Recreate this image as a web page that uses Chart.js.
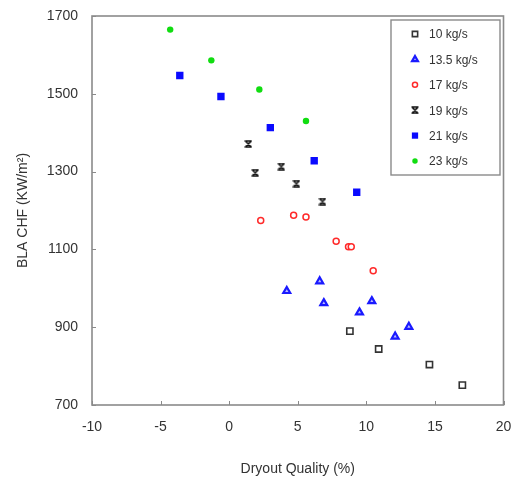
<!DOCTYPE html>
<html>
<head>
<meta charset="utf-8">
<script src="https://cdn.jsdelivr.net/npm/chart.js@4"></script>
<style>
  html, body { margin: 0; padding: 0; background: #fff; }
  #wrap { width: 512px; height: 485px; }
</style>
</head>
<body>
<div id="wrap"><canvas id="my-chart" width="512" height="485"></canvas></div>
<script>
'use strict';

// ******* DATA *********
let seriesNames = ['10 kg/s', '13.5 kg/s', '17 kg/s', '19 kg/s', '21 kg/s', '23 kg/s'];

let x10 = [8.8, 10.9, 14.6, 17.0];
let y10 = [890, 844, 804, 751];

let x135 = [4.2, 6.6, 6.9, 9.5, 10.4, 12.1, 13.1];
let y135 = [993, 1018, 962, 938, 967, 876, 901];

let x17 = [2.3, 4.7, 5.6, 7.8, 8.7, 8.9, 10.5];
let y17 = [1174, 1188, 1183, 1121, 1107, 1107, 1045];

let x19 = [1.4, 3.8, 1.9, 4.9, 6.8];
let y19 = [1371, 1313, 1297, 1269, 1223];

let x21 = [-3.6, -0.6, 3.0, 6.2, 9.3];
let y21 = [1547, 1493, 1413, 1328, 1247];

let x23 = [-4.3, -1.3, 2.2, 5.6];
let y23 = [1665, 1586, 1511, 1430];

let xTicks = [-10, -5, 0, 5, 10, 15, 20];
let yTicks = [700, 900, 1100, 1300, 1500, 1700];

// ******* HELPERS *********
function toPoints(xs, ys) {
  let pts = [];
  for (let i = 0; i < xs.length; i++) {
    pts.push({ x: xs[i], y: ys[i] });
  }
  return pts;
}

// hourglass-ish marker for the 19 kg/s series
function makeHourglass() {
  let c = document.createElement('canvas');
  c.width = 8;
  c.height = 8;
  let g = c.getContext('2d');
  g.strokeStyle = '#111';
  g.lineWidth = 1.6;
  g.beginPath();
  g.moveTo(1, 1); g.lineTo(7, 7);
  g.moveTo(7, 1); g.lineTo(1, 7);
  g.moveTo(0.5, 1); g.lineTo(7.5, 1);
  g.moveTo(0.5, 7); g.lineTo(7.5, 7);
  g.stroke();
  return c;
}
let hourglass = makeHourglass();

let frameColor = '#8a8a8a';
let textColor = '#333';
let fontFamily = "'Liberation Sans', Arial, sans-serif";

// ******* PLUGINS *********
let framePlugin = {
  id: 'frame',
  afterDraw(chart) {
    let ctx = chart.ctx;
    let a = chart.chartArea;
    let xs = chart.scales.x;
    let ys = chart.scales.y;
    ctx.save();
    ctx.strokeStyle = frameColor;
    ctx.lineWidth = 1.6;
    ctx.strokeRect(a.left, a.top, a.right - a.left, a.bottom - a.top);

    // inward tick marks
    ctx.lineWidth = 1;
    ctx.beginPath();
    for (let i = 0; i < xTicks.length; i++) {
      let px = Math.round(xs.getPixelForValue(xTicks[i])) + 0.5;
      ctx.moveTo(px, a.bottom);
      ctx.lineTo(px, a.bottom - 4);
    }
    for (let i = 0; i < yTicks.length; i++) {
      let py = Math.round(ys.getPixelForValue(yTicks[i])) + 0.5;
      ctx.moveTo(a.left, py);
      ctx.lineTo(a.left + 4, py);
    }
    ctx.stroke();

    // legend box
    ctx.fillStyle = '#fff';
    ctx.fillRect(391, 20, 109, 155);
    ctx.lineWidth = 1.4;
    ctx.strokeRect(391, 20, 109, 155);

    ctx.font = '12px ' + fontFamily;
    ctx.textBaseline = 'middle';
    ctx.textAlign = 'left';
    for (let i = 0; i < chart.data.datasets.length; i++) {
      let ds = chart.data.datasets[i];
      let rowY = 34 + i * 25.4;
      ctx.fillStyle = ds.backgroundColor;
      ctx.strokeStyle = ds.borderColor;
      ctx.lineWidth = ds.borderWidth;
      Chart.helpers.drawPoint(ctx, {
        pointStyle: ds.pointStyle,
        radius: ds.pointRadius * 0.85,
        borderWidth: ds.borderWidth,
        rotation: 0
      }, 415, rowY);
      ctx.fillStyle = textColor;
      ctx.fillText(ds.label, 429, rowY + 1);
    }
    ctx.restore();
  }
};

// ******* CHART *********
let ctx = document.getElementById('my-chart');

let chartObj = {
  type: 'scatter',
  data: {
    datasets: [
      {
        label: seriesNames[0],
        data: toPoints(x10, y10),
        pointStyle: 'rect',
        pointRadius: 4.4,
        borderWidth: 1.6,
        backgroundColor: '#fff',
        borderColor: '#333'
      },
      {
        label: seriesNames[1],
        data: toPoints(x135, y135),
        pointStyle: 'triangle',
        pointRadius: 4,
        borderWidth: 2.2,
        backgroundColor: '#b8b8ff',
        borderColor: '#1a1aff'
      },
      {
        label: seriesNames[2],
        data: toPoints(x17, y17),
        pointStyle: 'circle',
        pointRadius: 3,
        borderWidth: 1.5,
        backgroundColor: '#fff',
        borderColor: '#ff2a2a'
      },
      {
        label: seriesNames[3],
        data: toPoints(x19, y19),
        pointStyle: hourglass,
        pointRadius: 4,
        borderWidth: 1,
        backgroundColor: '#111',
        borderColor: '#111'
      },
      {
        label: seriesNames[4],
        data: toPoints(x21, y21),
        pointStyle: 'rect',
        pointRadius: 5.2,
        borderWidth: 0,
        backgroundColor: '#0a0aff',
        borderColor: '#0a0aff'
      },
      {
        label: seriesNames[5],
        data: toPoints(x23, y23),
        pointStyle: 'circle',
        pointRadius: 3.2,
        borderWidth: 0,
        backgroundColor: '#11dd11',
        borderColor: '#11dd11'
      }
    ]
  },
  options: {
    responsive: false,
    animation: false,
    devicePixelRatio: 1,
    layout: {
      padding: { top: 16, right: 8.5, left: 0, bottom: 0 }
    },
    plugins: {
      legend: { display: false },
      tooltip: { enabled: false }
    },
    scales: {
      x: {
        type: 'linear',
        min: -10,
        max: 20,
        afterFit: (s) => {
          s.height = 80;
          s.paddingLeft = 0;
          s.paddingRight = 0;
        },
        afterBuildTicks: (s) => { s.ticks = xTicks.map(v => ({ value: v })); },
        grid: { display: false, drawTicks: false },
        border: { display: false },
        ticks: {
          padding: 14,
          color: textColor,
          font: { family: fontFamily, size: 14 },
          callback: (v) => String(v)
        },
        title: {
          display: true,
          text: 'Dryout Quality (%)',
          color: textColor,
          padding: { top: 0, bottom: 7 },
          font: { family: fontFamily, size: 14 }
        }
      },
      y: {
        type: 'linear',
        min: 700,
        max: 1700,
        afterFit: (s) => {
          s.width = 92;
          s.paddingTop = 0;
          s.paddingBottom = 0;
        },
        afterBuildTicks: (s) => { s.ticks = yTicks.map(v => ({ value: v })); },
        grid: { display: false, drawTicks: false },
        border: { display: false },
        ticks: {
          padding: 14,
          color: textColor,
          font: { family: fontFamily, size: 14 },
          callback: (v) => String(v)
        },
        title: {
          display: true,
          text: 'BLA CHF (KW/m²)',
          color: textColor,
          padding: { top: 15, bottom: 0 },
          font: { family: fontFamily, size: 14 }
        }
      }
    }
  },
  plugins: [framePlugin]
};

new Chart(ctx, chartObj); //eslint-disable-line
</script>
</body>
</html>
